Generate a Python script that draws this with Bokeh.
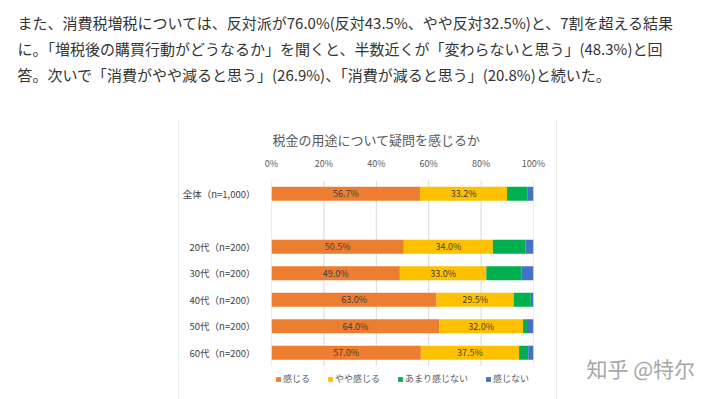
from bokeh.plotting import figure
from bokeh.layouts import column, row
from bokeh.models import (FactorRange, Range1d, Label, Legend, LegendItem,
                          ColumnDataSource)
from bokeh.core.properties import value
from bokeh.embed import file_html
from bokeh.resources import INLINE

# ---------------- data ----------------
chart_title = "税金の用途について疑問を感じるか"
groups = ["全体（n=1,000）", " ", "20代（n=200）", "30代（n=200）",
          "40代（n=200）", "50代（n=200）", "60代（n=200）"]
series = ["感じる", "やや感じる", "あまり感じない", "感じない"]
feel = [56.7, 0, 50.5, 49.0, 63.0, 64.0, 57.0]
somewhat = [33.2, 0, 34.0, 33.0, 29.5, 32.0, 37.5]
not_much = [7.9, 0, 12.5, 13.5, 6.5, 1.5, 3.5]
not_at_all = [2.2, 0, 3.0, 4.5, 1.0, 2.5, 2.0]
tick_values = [0, 20, 40, 60, 80, 100]
tick_labels = ["0%", "20%", "40%", "60%", "80%", "100%"]
paragraph = [
    "また、消費税増税については、反対派が76.0%(反対43.5%、やや反対32.5%)と、7割を超える結果",
    "に。「増税後の購買行動がどうなるか」を聞くと、半数近くが「変わらないと思う」(48.3%)と回",
    "答。次いで「消費がやや減ると思う」(26.9%)、「消費が減ると思う」(20.8%)と続いた。",
]
watermark = "知乎 @特尔"

colors = ["#ED7D31", "#FFC000", "#00B050", "#4472C4"]
JP = "Noto Sans CJK JP"
BOX = "#d9d9d9"
LEGEND_SLOT = "  "   # empty row below the bars that holds the legend


def blank(w, h, fill="white"):
    f = figure(width=w, height=h, output_backend="svg", toolbar_location=None,
               x_axis_type=None, y_axis_type=None,
               x_range=Range1d(0, w), y_range=Range1d(0, h),
               min_border=0, min_border_left=0, min_border_right=0,
               min_border_top=0, min_border_bottom=0)
    f.outline_line_color = None
    f.background_fill_color = fill
    f.border_fill_color = fill
    return f


# ---------------- paragraph ----------------
top = blank(716, 119)
for i, line in enumerate(paragraph):
    top.add_layout(Label(x=17, y=97 - i * 26, x_units="screen", y_units="screen",
                         text=line, text_align="left", text_baseline="middle",
                         text_font=JP, text_font_size="15px", text_color="#333333"))

left = blank(178, 280)
wm = blank(159, 278)
wm.add_layout(Label(x=29, y=30, x_units="screen", y_units="screen", text=watermark,
                    text_align="left", text_baseline="middle",
                    text_font="Noto Sans CJK SC", text_font_size="21px",
                    text_color="#a6a6a6"))
right = column(wm, blank(159, 1, BOX), blank(159, 1))
vline_l = blank(1, 280, BOX)
vline_r = blank(1, 280, BOX)

# ---------------- chart ----------------
factors = [LEGEND_SLOT] + list(reversed(groups))
p = figure(width=377, height=277, output_backend="svg", toolbar_location=None,
           y_range=FactorRange(factors=factors, range_padding=0),
           x_range=Range1d(0, 100), x_axis_location="above",
           min_border_left=87, min_border_right=23,
           min_border_top=60, min_border_bottom=5)
p.outline_line_color = None
p.background_fill_color = "white"
p.border_fill_color = "white"

p.title.text = chart_title
p.title.align = "left"
p.title.offset = 1
p.title.text_font = JP
p.title.text_font_size = "13px"
p.title.text_font_style = "normal"
p.title.text_color = "#595959"

# vertical gridlines limited to the bar rows
p.segment(x0=tick_values, x1=tick_values,
          y0=[(groups[0], 0.5)] * len(tick_values),
          y1=[(groups[-1], -0.5)] * len(tick_values),
          line_color=BOX, line_width=1)

src = ColumnDataSource(dict(group=groups, **{series[0]: feel, series[1]: somewhat,
                                             series[2]: not_much, series[3]: not_at_all}))
renderers = p.hbar_stack(series, y="group", height=0.52, color=colors,
                         line_color=None, source=src)

lx, ly, lt = [], [], []
for g, a, b in zip(groups, feel, somewhat):
    if a > 0:
        lx.append(a / 2); ly.append(g); lt.append(f"{a:.1f}%")
    if b > 0:
        lx.append(a + b / 2); ly.append(g); lt.append(f"{b:.1f}%")
p.text(x=lx, y=ly, text=lt, text_align="center", text_baseline="middle",
       text_font=value(JP), text_font_size="9px", text_color="#404040")

xa = p.xaxis[0]
xa.ticker = tick_values
xa.major_label_overrides = {v: t for v, t in zip(tick_values, tick_labels)}
xa.axis_line_color = None
xa.major_tick_line_color = None
xa.minor_tick_line_color = None
xa.major_label_text_font = JP
xa.major_label_text_font_size = "9px"
xa.major_label_text_color = "#595959"
xa.major_label_standoff = 5

ya = p.yaxis[0]
ya.axis_line_color = None
ya.major_tick_line_color = None
ya.minor_tick_line_color = None
ya.major_label_text_font = JP
ya.major_label_text_font_size = "9.5px"
ya.major_label_text_color = "#404040"
ya.major_label_standoff = 10

p.xgrid.grid_line_color = None
p.ygrid.grid_line_color = None

legend = Legend(items=[LegendItem(label=s, renderers=[r]) for s, r in zip(series, renderers)],
                orientation="horizontal", location=(4, 7),
                glyph_width=6, glyph_height=6, label_standoff=2, spacing=17,
                label_text_font=JP, label_text_font_size="9px",
                label_text_color="#595959", label_height=12,
                padding=0, margin=0, background_fill_alpha=0, border_line_alpha=0)
p.add_layout(legend)

center = column(blank(377, 1, BOX), p,
                row(blank(13, 1), blank(364, 1, BOX)), blank(377, 1))

layout = column(top, row(left, vline_l, center, vline_r, right))
open("out.html", "w").write(file_html(layout, INLINE))
